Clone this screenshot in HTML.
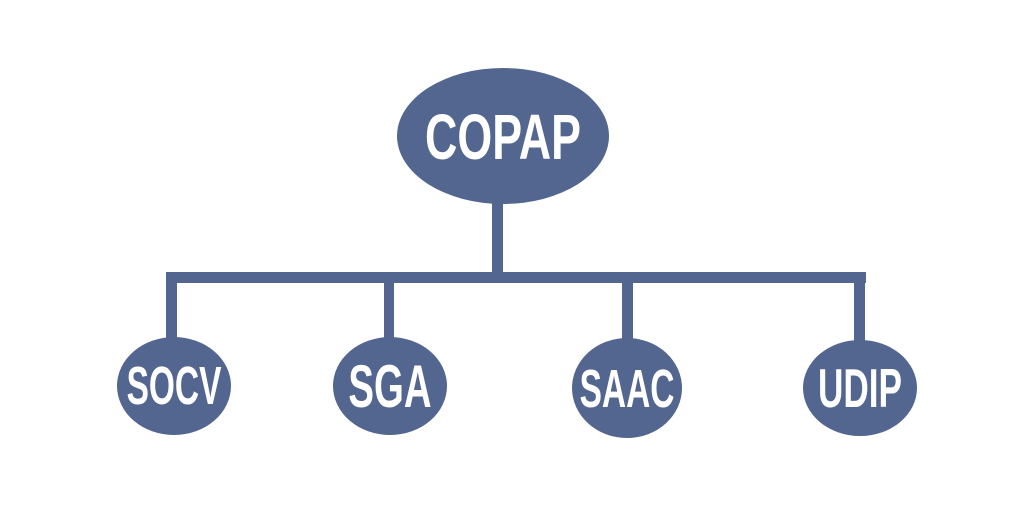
<!DOCTYPE html>
<html><head><style>
html,body{margin:0;padding:0;background:#fff;}
svg{display:block}
text{font-family:"Liberation Sans Narrow","Liberation Sans",sans-serif;font-weight:bold;fill:#fff;text-anchor:middle}
</style></head><body>
<svg width="1024" height="517" viewBox="0 0 1024 517">
<g fill="#53668f">
<ellipse cx="503" cy="136" rx="106" ry="68"/>
<rect x="492" y="200" width="11" height="80"/>
<rect x="166" y="272" width="700" height="11"/>
<rect x="166" y="272" width="11" height="70"/>
<rect x="384" y="272" width="10" height="70"/>
<rect x="622" y="272" width="11" height="70"/>
<rect x="854" y="272" width="11" height="70"/>
<ellipse cx="174" cy="386" rx="57" ry="49"/>
<ellipse cx="390" cy="386" rx="57" ry="49"/>
<ellipse cx="627" cy="388" rx="55" ry="50"/>
<ellipse cx="860" cy="388" rx="57" ry="48"/>
</g>
<text x="503" y="159" font-size="64" transform="translate(503 0) scale(0.7 1) translate(-503 0)">COPAP</text>
<text x="174" y="404" font-size="54" transform="translate(174 0) scale(0.62 1) translate(-174 0)">SOCV</text>
<text x="390" y="407" font-size="60" transform="translate(390 0) scale(0.64 1) translate(-390 0)">SGA</text>
<text x="627" y="407" font-size="54" transform="translate(627 0) scale(0.62 1) translate(-627 0)">SAAC</text>
<text x="860" y="407" font-size="55" transform="translate(860 0) scale(0.64 1) translate(-860 0)">UDIP</text>
</svg>
</body></html>
